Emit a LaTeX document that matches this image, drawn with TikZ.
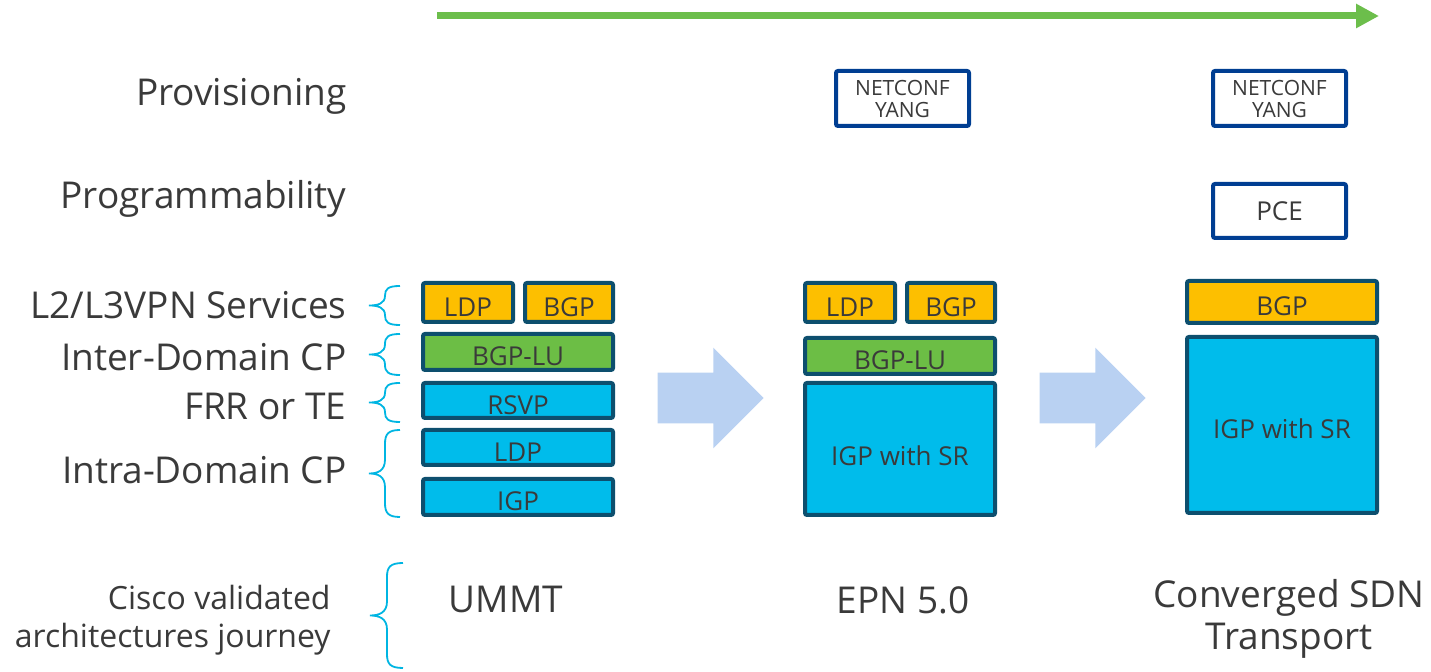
\documentclass[tikz,border=0pt]{standalone}
\usepackage{fontspec}
\setmainfont{Open Sans}
\usepackage{tikz}
\usetikzlibrary{shapes}
\usetikzlibrary{arrows.meta}

\definecolor{vpnorange}{HTML}{FDBF00}
\definecolor{lugreen}{HTML}{6CBE45}
\definecolor{igpcyan}{HTML}{00BCEB}
\definecolor{layerline}{HTML}{0D4F6E}
\definecolor{mgmtblue}{HTML}{003E92}
\definecolor{flowblue}{HTML}{B9D1F2}
\definecolor{bracecyan}{HTML}{00B5E2}
\definecolor{trackgreen}{HTML}{6CBE4B}
\definecolor{txt}{HTML}{3A3A3A}

\begin{document}
\begin{tikzpicture}[x=0.5pt,y=-0.5pt]
    \tikzstyle{layer}=[rectangle,draw=layerline,line width=2pt,rounded corners=1pt,inner sep=0pt,text height=13.8pt,text depth=0pt,text=txt,font=\fontsize{13}{15}\selectfont]
    \tikzstyle{vpn}=[layer,fill=vpnorange,minimum height=19.5pt]
    \tikzstyle{lu}=[layer,fill=lugreen,minimum width=95pt,minimum height=18pt]
    \tikzstyle{igp}=[layer,fill=igpcyan,minimum width=95pt]
    \tikzstyle{mgmt}=[rectangle,draw=mgmtblue,line width=2pt,rounded corners=1pt,fill=white,inner sep=0pt,minimum width=66.5pt,minimum height=27.5pt,align=center,text=txt,font=\fontsize{10.5}{11}\selectfont]
    \tikzstyle{cat}=[anchor=east,inner sep=0pt,text=txt,font=\fontsize{18.5}{21}\selectfont]
    \tikzstyle{arch}=[inner sep=0pt,align=center,text=txt,font=\fontsize{18.5}{21}\selectfont]
    \tikzstyle{flow}=[single arrow,fill=flowblue,draw=none,inner xsep=0pt,inner ysep=12.5pt,minimum height=53pt,minimum width=50pt,single arrow head extend=12.5pt,single arrow tip angle=90]
    \tikzstyle{grp}=[draw=bracecyan,line width=0.9pt]
    \useasboundingbox (0,0) rectangle (1431,672);

    \coordinate (t0) at (437,16);
    \coordinate (t1) at (1379,16);
    \draw[trackgreen,line width=3.5pt,-{Triangle[length=11.5pt,width=11.5pt]}] (t0) -- (t1);

    \node[cat] (prov) at (347,96) {Provisioning};
    \node[cat] (prog) at (347,199) {Programmability};
    \node[cat] (svc) at (347,305) {L2/L3VPN Services};
    \node[cat] (inter) at (347,357) {Inter-Domain CP};
    \node[cat] (frr) at (347,406) {FRR or TE};
    \node[cat] (intra) at (347,470) {Intra-Domain CP};
    \node[cat,align=right,font=\fontsize{16}{19}\selectfont] (cvd) at (331,620) {Cisco validated\\architectures journey};

    \foreach \t/\b/\e/\m/\p in {286/325/400/385/369, 334/375/400/385/369, 383/422/400/385/369, 430/517/400/385/369, 563/668/403/387/370} {
      \pgfmathsetmacro\h{(\t+\b)/2}
      \pgfmathsetmacro\q{min((\b-\t)/4,14)}
      \draw[grp] (\e,\t) .. controls (\m+3,\t) and (\m,\t+0.3*\q) .. (\m,\t+\q)
        -- (\m,\h-\q) .. controls (\m,\h-0.2*\q) and (\p+9,\h) .. (\p,\h)
        .. controls (\p+9,\h) and (\m,\h+0.2*\q) .. (\m,\h+\q)
        -- (\m,\b-\q) .. controls (\m,\b-0.3*\q) and (\m+3,\b) .. (\e,\b);
    }

    \node[vpn,minimum width=45pt] (ldpa) at (468,302.5) {LDP};
    \node[vpn,minimum width=44pt] (bgpa) at (569,302.5) {BGP};
    \node[lu] (lua) at (518,352) {BGP-LU};
    \node[igp,minimum height=17.5pt] (rsvpa) at (518,400.5) {RSVP};
    \node[igp,minimum height=17.5pt] (ldpb) at (518,447.5) {LDP};
    \node[igp,minimum height=18pt] (igpa) at (518,497) {IGP};
    \node[arch] (ummt) at (506,599) {UMMT};

    \node[flow] (shifta) at (698,398) {};

    \node[mgmt] (ncb) at (902.5,98.5) {NETCONF\\YANG};
    \node[vpn,minimum width=45pt] (ldpc) at (850,302.5) {LDP};
    \node[vpn,minimum width=44pt] (bgpb) at (951,302.5) {BGP};
    \node[lu] (lub) at (900,356) {BGP-LU};
    \node[igp,minimum height=66pt,text height=17pt] (srb) at (900,449) {IGP with SR};
    \node[arch] (epn) at (903,600) {EPN 5.0};

    \node[flow] (shiftb) at (1080,398) {};

    \node[mgmt] (ncc) at (1279.5,98.5) {NETCONF\\YANG};
    \node[mgmt,font=\fontsize{13}{15}\selectfont,minimum height=27pt] (pce) at (1279.5,211) {PCE};
    \node[vpn,minimum width=95pt,minimum height=21pt] (bgpc) at (1282,302) {BGP};
    \node[igp,minimum height=88pt] (src) at (1282,425) {IGP with SR};
    \node[arch] (sdn) at (1289,619) {Converged SDN\\Transport};
\end{tikzpicture}
\end{document}
